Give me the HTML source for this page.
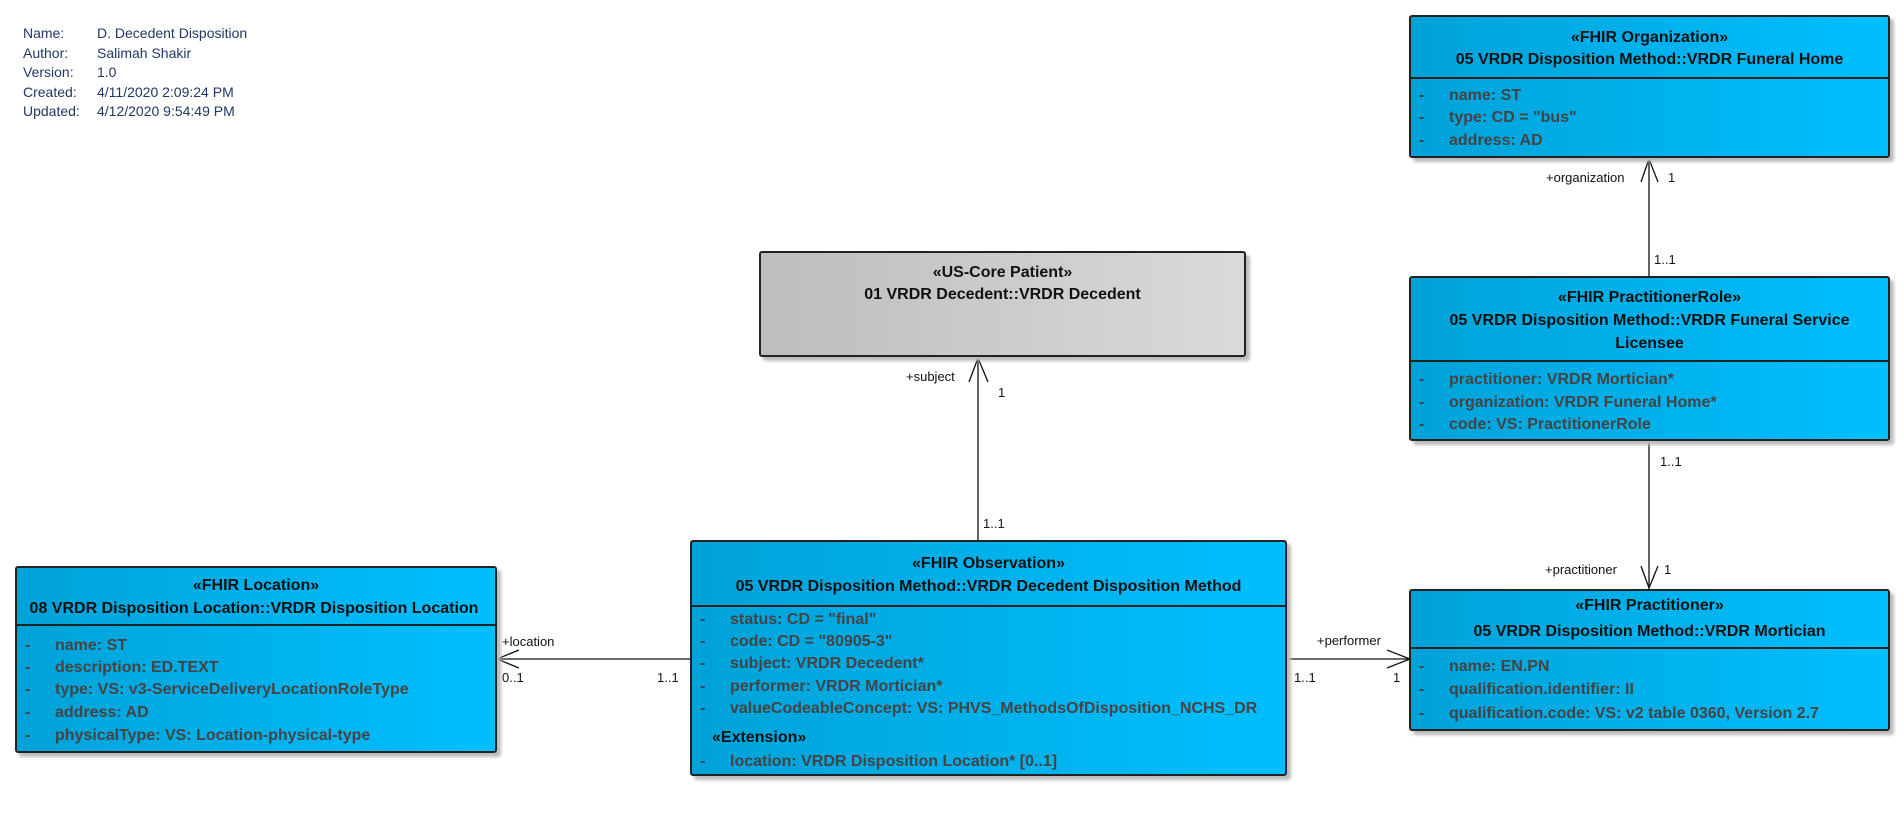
<!DOCTYPE html>
<html><head><meta charset="utf-8"><style>
body{margin:0;width:1904px;height:824px;background:#fff;position:relative;overflow:hidden;font-family:"Liberation Sans",sans-serif}
.meta{position:absolute;left:23px;top:24px;font-size:14px;color:#1f3864;line-height:19.5px}
.meta span{display:inline-block;width:74px}
.box{position:absolute;border:2px solid #222;border-radius:3px;background:linear-gradient(to right,#00a2d8,#00bfff);box-shadow:4px 4px 3px #bbb;box-sizing:border-box;overflow:hidden}
.gray{background:linear-gradient(to right,#bdbdbd,#dadada)}
.h{position:absolute;left:0;right:0;text-align:center;font-weight:bold;font-size:16px;color:#111;white-space:nowrap;line-height:20px}
.div{position:absolute;left:0;right:0;border-top:2px solid #222}
.a{position:absolute;font-weight:bold;font-size:16px;color:#444;white-space:nowrap;line-height:20px}
.d{position:absolute;left:8px;font-weight:bold;font-size:16px;color:#444;line-height:20px}
.l{position:absolute;font-size:13px;color:#111;white-space:nowrap;line-height:16px}
</style></head><body>
<div class="meta"><div><span>Name:</span>D. Decedent Disposition</div><div><span>Author:</span>Salimah Shakir</div><div><span>Version:</span>1.0</div><div><span>Created:</span>4/11/2020 2:09:24 PM</div><div><span>Updated:</span>4/12/2020 9:54:49 PM</div></div>

<svg width="1904" height="824" style="position:absolute;left:0;top:0" fill="none" stroke="#111" stroke-width="1.3">
<line x1="1649" y1="158" x2="1649" y2="276"/><polyline points="1641,182 1649,159 1658,182"/>
<line x1="1649" y1="441" x2="1649" y2="589"/><polyline points="1641,566 1649,588 1658,566"/>
<line x1="978" y1="357" x2="978" y2="540"/><polyline points="969,382 978,358 988,382"/>
<line x1="496" y1="659" x2="691" y2="659"/><polyline points="519,650 497,659 519,668"/>
<line x1="1287" y1="659" x2="1411" y2="659"/><polyline points="1387,650 1410,659 1387,668"/>
</svg>

<div class="l" style="left:1546px;top:170px">+organization</div>
<div class="l" style="left:1668px;top:170px">1</div>
<div class="l" style="left:1654px;top:252px">1..1</div>
<div class="l" style="left:1660px;top:454px">1..1</div>
<div class="l" style="left:1545px;top:562px">+practitioner</div>
<div class="l" style="left:1664px;top:562px">1</div>
<div class="l" style="left:906px;top:369px">+subject</div>
<div class="l" style="left:998px;top:385px">1</div>
<div class="l" style="left:983px;top:516px">1..1</div>
<div class="l" style="left:502px;top:634px">+location</div>
<div class="l" style="left:502px;top:670px">0..1</div>
<div class="l" style="left:657px;top:670px">1..1</div>
<div class="l" style="left:1317px;top:633px">+performer</div>
<div class="l" style="left:1294px;top:670px">1..1</div>
<div class="l" style="left:1393px;top:670px">1</div>

<div class="box" style="left:1409px;top:15px;width:481px;height:143px">
<div class="h" style="top:11px">«FHIR Organization»</div>
<div class="h" style="top:33px">05 VRDR Disposition Method::VRDR Funeral Home</div>
<div class="div" style="top:60px"></div>
<div class="d" style="top:69px">-</div><div class="a" style="left:38px;top:69px">name: ST</div>
<div class="d" style="top:91px">-</div><div class="a" style="left:38px;top:91px">type: CD = "bus"</div>
<div class="d" style="top:114px">-</div><div class="a" style="left:38px;top:114px">address: AD</div>
</div>

<div class="box" style="left:1409px;top:276px;width:481px;height:165px">
<div class="h" style="top:10px">«FHIR PractitionerRole»</div>
<div class="h" style="top:33px">05 VRDR Disposition Method::VRDR Funeral Service</div>
<div class="h" style="top:56px">Licensee</div>
<div class="div" style="top:82px"></div>
<div class="d" style="top:92px">-</div><div class="a" style="left:38px;top:92px">practitioner: VRDR Mortician*</div>
<div class="d" style="top:115px">-</div><div class="a" style="left:38px;top:115px">organization: VRDR Funeral Home*</div>
<div class="d" style="top:137px">-</div><div class="a" style="left:38px;top:137px">code: VS: PractitionerRole</div>
</div>

<div class="box" style="left:1409px;top:589px;width:481px;height:142px">
<div class="h" style="top:5px">«FHIR Practitioner»</div>
<div class="h" style="top:31px">05 VRDR Disposition Method::VRDR Mortician</div>
<div class="div" style="top:56px"></div>
<div class="d" style="top:66px">-</div><div class="a" style="left:38px;top:66px">name: EN.PN</div>
<div class="d" style="top:89px">-</div><div class="a" style="left:38px;top:89px">qualification.identifier: II</div>
<div class="d" style="top:113px">-</div><div class="a" style="left:38px;top:113px">qualification.code: VS: v2 table 0360, Version 2.7</div>
</div>

<div class="box gray" style="left:759px;top:251px;width:487px;height:106px">
<div class="h" style="top:10px">«US-Core Patient»</div>
<div class="h" style="top:32px">01 VRDR Decedent::VRDR Decedent</div>
</div>

<div class="box" style="left:690px;top:540px;width:597px;height:236px">
<div class="h" style="top:12px">«FHIR Observation»</div>
<div class="h" style="top:35px">05 VRDR Disposition Method::VRDR Decedent Disposition Method</div>
<div class="div" style="top:63px"></div>
<div class="d" style="top:68px">-</div><div class="a" style="left:38px;top:68px">status: CD = "final"</div>
<div class="d" style="top:90px">-</div><div class="a" style="left:38px;top:90px">code: CD = "80905-3"</div>
<div class="d" style="top:112px">-</div><div class="a" style="left:38px;top:112px">subject: VRDR Decedent*</div>
<div class="d" style="top:135px">-</div><div class="a" style="left:38px;top:135px">performer: VRDR Mortician*</div>
<div class="d" style="top:157px">-</div><div class="a" style="left:38px;top:157px">valueCodeableConcept: VS: PHVS_MethodsOfDisposition_NCHS_DR</div>
<div class="a" style="left:20px;top:186px;color:#111">«Extension»</div>
<div class="d" style="top:210px">-</div><div class="a" style="left:38px;top:210px">location: VRDR Disposition Location* [0..1]</div>
</div>

<div class="box" style="left:15px;top:566px;width:482px;height:187px">
<div class="h" style="top:8px">«FHIR Location»</div>
<div class="h" style="top:31px;left:-4px">08 VRDR Disposition Location::VRDR Disposition Location</div>
<div class="div" style="top:56px"></div>
<div class="d" style="top:68px">-</div><div class="a" style="left:38px;top:68px">name: ST</div>
<div class="d" style="top:90px">-</div><div class="a" style="left:38px;top:90px">description: ED.TEXT</div>
<div class="d" style="top:112px">-</div><div class="a" style="left:38px;top:112px">type: VS: v3-ServiceDeliveryLocationRoleType</div>
<div class="d" style="top:135px">-</div><div class="a" style="left:38px;top:135px">address: AD</div>
<div class="d" style="top:158px">-</div><div class="a" style="left:38px;top:158px">physicalType: VS: Location-physical-type</div>
</div>
</body></html>
